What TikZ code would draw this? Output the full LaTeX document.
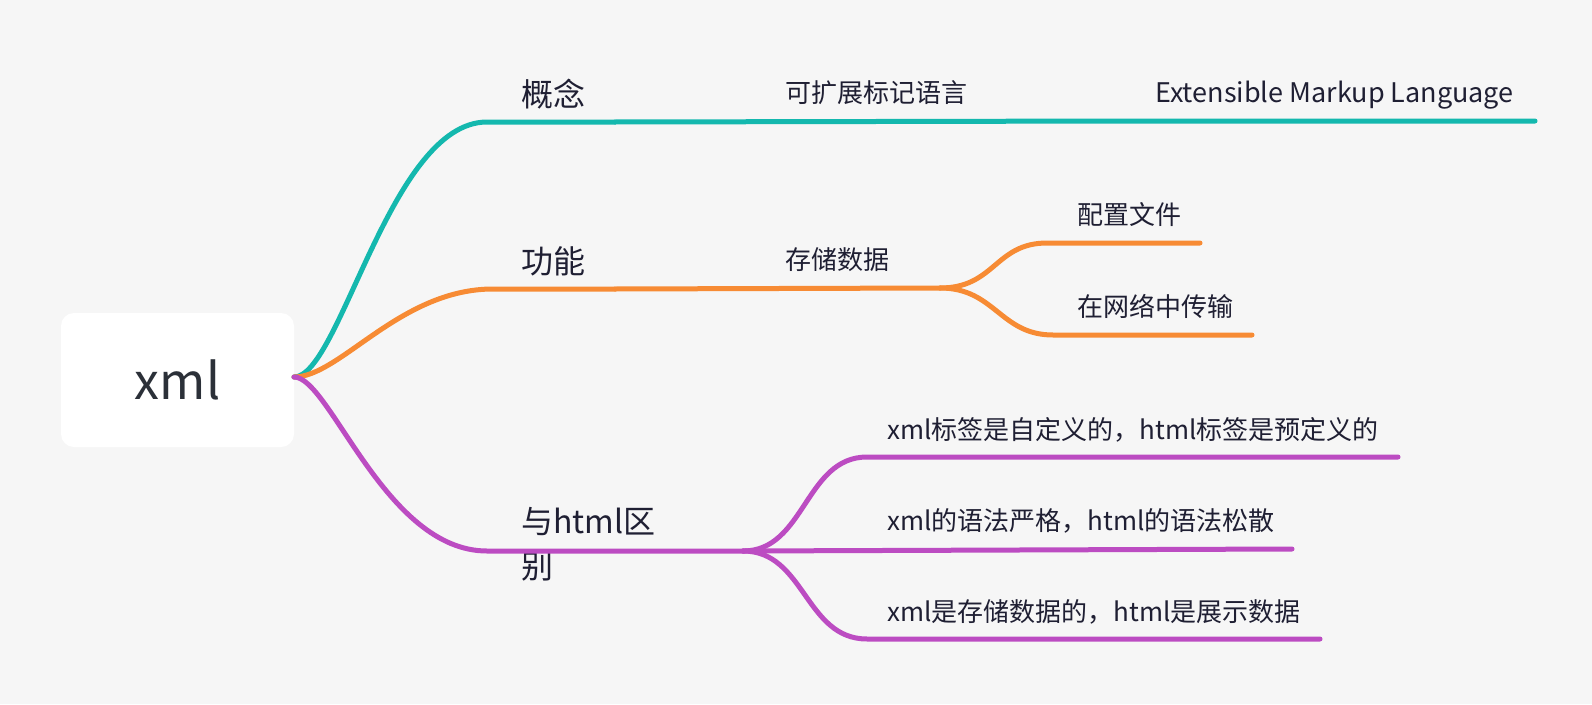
\documentclass[tikz,border=0pt]{standalone}
\usepackage{fontspec}
\setmainfont{Noto Sans CJK SC}
\usetikzlibrary{positioning}
\definecolor{mTeal}{HTML}{14B8AE}
\definecolor{mOrange}{HTML}{F78B34}
\definecolor{mPurple}{HTML}{BC4CC2}
\definecolor{mBack}{HTML}{F6F6F6}
\definecolor{mInk}{HTML}{1F1F33}
\definecolor{mRootInk}{HTML}{2B3038}
\tikzstyle{mRoot} = [rectangle, rounded corners=13pt, minimum width=233pt, minimum height=134pt, fill=white, text=mRootInk, font=\fontsize{50}{60}\selectfont]
\tikzstyle{mMain} = [inner sep=0pt, anchor=base west, text=mInk, align=left, font=\fontsize{32}{45}\selectfont]
\tikzstyle{mSub} = [inner sep=0pt, anchor=base west, text=mInk, font=\fontsize{26}{30}\selectfont]
\tikzstyle{mLine} = [line width=5pt, line cap=round]

\begin{document}
\begin{tikzpicture}[x=1pt, y=-1pt]
    \fill [mBack] (0,0) rectangle (1592,704);
    \node (xml) [mRoot] at (177.5,380) {xml};
    \coordinate (hub) at (294,377);

    % concept branch
    \coordinate (gnStart) at (487,122);
    \coordinate (gnEnd) at (615,122);
    \coordinate (kzEnd) at (1135,121);
    \coordinate (exEnd) at (1535,121);
    \node (gn) [mMain] at (521,106) {概念};
    \node (kz) [mSub] at (785,102) {可扩展标记语言};
    \node (ex) [mSub, font=\fontsize{27}{30}\selectfont] at (1155,102) {Extensible Markup Language};
    \draw [mLine, mTeal] (hub) .. controls (340,377) and (390,122) .. (gnStart) -- (gnEnd);
    \draw [mLine, mTeal] (gnEnd) -- (kzEnd) -- (exEnd);

    % function branch
    \coordinate (gyStart) at (493,289);
    \coordinate (gyEnd) at (615,289);
    \coordinate (ccFork) at (940,288);
    \coordinate (pzStart) at (1047,243);
    \coordinate (pzEnd) at (1200,243);
    \coordinate (csStart) at (1053,335);
    \coordinate (csEnd) at (1252,335);
    \node (gy) [mMain] at (521,273) {功能};
    \node (cc) [mSub] at (785,269) {存储数据};
    \node (pz) [mSub] at (1077,224) {配置文件};
    \node (cs) [mSub] at (1077,316) {在网络中传输};
    \draw [mLine, mOrange] (hub) .. controls (340,377) and (400,289) .. (gyStart) -- (gyEnd);
    \draw [mLine, mOrange] (gyEnd) -- (ccFork);
    \draw [mLine, mOrange] (ccFork) .. controls (995,288) and (995,243) .. (pzStart) -- (pzEnd);
    \draw [mLine, mOrange] (ccFork) .. controls (995,288) and (1000,335) .. (csStart) -- (csEnd);

    % difference branch
    \coordinate (qbStart) at (487,551);
    \coordinate (qbFork) at (743,551);
    \coordinate (bqStart) at (867,457);
    \coordinate (bqEnd) at (1398,457);
    \coordinate (yfEnd) at (1292,549);
    \coordinate (ccsStart) at (867,639);
    \coordinate (ccsEnd) at (1320,639);
    \node (qb) [mMain] at (521,578) {与html区\\别};
    \node (bq) [mSub] at (887,439) {xml标签是自定义的，html标签是预定义的};
    \node (yf) [mSub] at (887,530) {xml的语法严格，html的语法松散};
    \node (ccs) [mSub] at (887,621) {xml是存储数据的，html是展示数据};
    \draw [mLine, mPurple] (hub) .. controls (330,377) and (385,551) .. (qbStart) -- (qbFork);
    \draw [mLine, mPurple] (qbFork) .. controls (805,551) and (805,457) .. (bqStart) -- (bqEnd);
    \draw [mLine, mPurple] (qbFork) -- (yfEnd);
    \draw [mLine, mPurple] (qbFork) .. controls (805,551) and (805,639) .. (ccsStart) -- (ccsEnd);
\end{tikzpicture}
\end{document}
